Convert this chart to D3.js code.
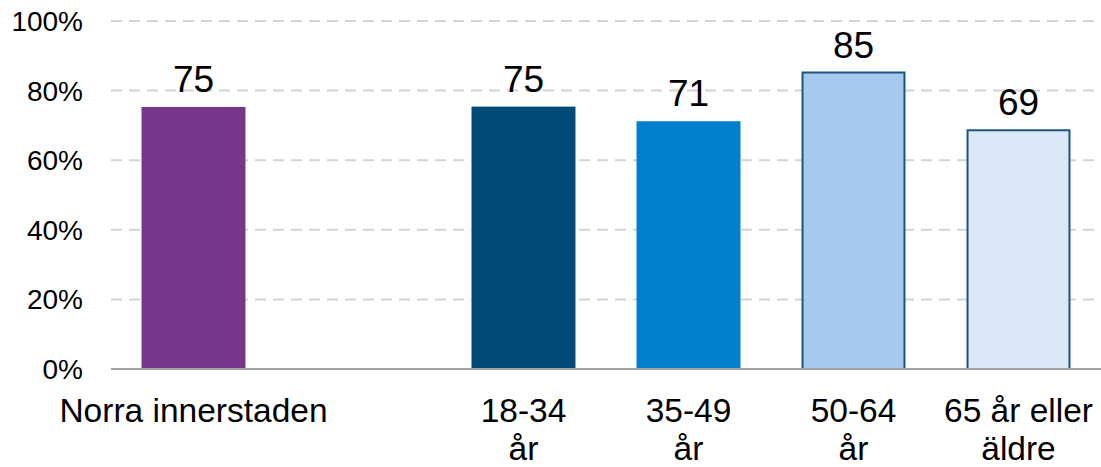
<!DOCTYPE html>
<html>
<head>
<meta charset="utf-8">
<script src="https://cdn.jsdelivr.net/npm/d3@7"></script>
<style>
  body { margin: 0; background: #fff; }
  text { font-family: "Liberation Sans", Arial, sans-serif; fill: #000; }
</style>
</head>
<body>
<div id="chart"></div>
<script>
// data
const categories = ["Norra innerstaden", "gap", "18-34\når", "35-49\når", "50-64\når", "65 år eller\näldre"]
const values = [75.3, null, 75.4, 71.2, 85.2, 68.6]
const fills = ["#76368A", null, "#004A77", "#0080CA", "#A4C9EC", "#DCE7F7"]
const strokes = ["none", null, "none", "none", "#1B5584", "#1B5584"]
const yTicks = [0, 20, 40, 60, 80, 100]

const W = 1101, H = 467
const margin = {top: 21, right: 0, bottom: 98, left: 111}

const svg = d3.select("#chart").append("svg")
    .attr("width", W)
    .attr("height", H)

const x = d3.scaleBand()
    .domain(categories)
    .range([margin.left, W - margin.right])
    .paddingInner(0.37)
    .paddingOuter(0.185)

const y = d3.scaleLinear()
    .domain([0, 100])
    .range([H - margin.bottom, margin.top])

// gridlines
svg.append("g")
    .selectAll("line")
    .data(yTicks.filter(d => d > 0))
    .enter().append("line")
    .attr("x1", margin.left)
    .attr("x2", W)
    .attr("y1", d => y(d))
    .attr("y2", d => y(d))
    .attr("stroke", "#D4D4D4")
    .attr("stroke-width", 2)
    .attr("stroke-dasharray", "11,7")

// y tick labels
svg.append("g")
    .selectAll("text")
    .data(yTicks)
    .enter().append("text")
    .attr("x", 83)
    .attr("y", d => y(d))
    .attr("dy", "0.36em")
    .attr("text-anchor", "end")
    .style("font-size", "28px")
    .text(d => d + "%")

const rows = categories.map((c, i) => ({cat: c, value: values[i], fill: fills[i], stroke: strokes[i]}))
    .filter(d => d.value != null)

// bars
svg.append("g")
    .selectAll("rect")
    .data(rows)
    .enter().append("rect")
    .attr("x", d => x(d.cat) + (d.stroke != "none" ? 1 : 0))
    .attr("width", d => x.bandwidth() - (d.stroke != "none" ? 2 : 0))
    .attr("y", d => y(d.value))
    .attr("height", d => y(0) - y(d.value))
    .attr("fill", d => d.fill)
    .attr("stroke", d => d.stroke)
    .attr("stroke-width", 2)

// axis line
svg.append("line")
    .attr("x1", margin.left)
    .attr("x2", W)
    .attr("y1", y(0))
    .attr("y2", y(0))
    .attr("stroke", "#A6A6A6")
    .attr("stroke-width", 2)

// value labels
svg.append("g")
    .selectAll("text")
    .data(rows)
    .enter().append("text")
    .attr("x", d => x(d.cat) + x.bandwidth() / 2)
    .attr("y", d => y(d.value) - 15)
    .attr("text-anchor", "middle")
    .style("font-size", "37px")
    .text(d => d3.format(".0f")(d.value))

// category labels
const catG = svg.append("g")
    .selectAll("text")
    .data(rows)
    .enter().append("text")
    .attr("x", d => x(d.cat) + x.bandwidth() / 2)
    .attr("y", 422)
    .attr("text-anchor", "middle")
    .style("font-size", "33.5px")

catG.selectAll("tspan")
    .data(d => d.cat.split("\n").map(t => ({t: t, cx: x(d.cat) + x.bandwidth() / 2})))
    .enter().append("tspan")
    .attr("x", d => d.cx)
    .attr("dy", (d, i) => i == 0 ? 0 : 38)
    .text(d => d.t)
</script>
</body>
</html>
